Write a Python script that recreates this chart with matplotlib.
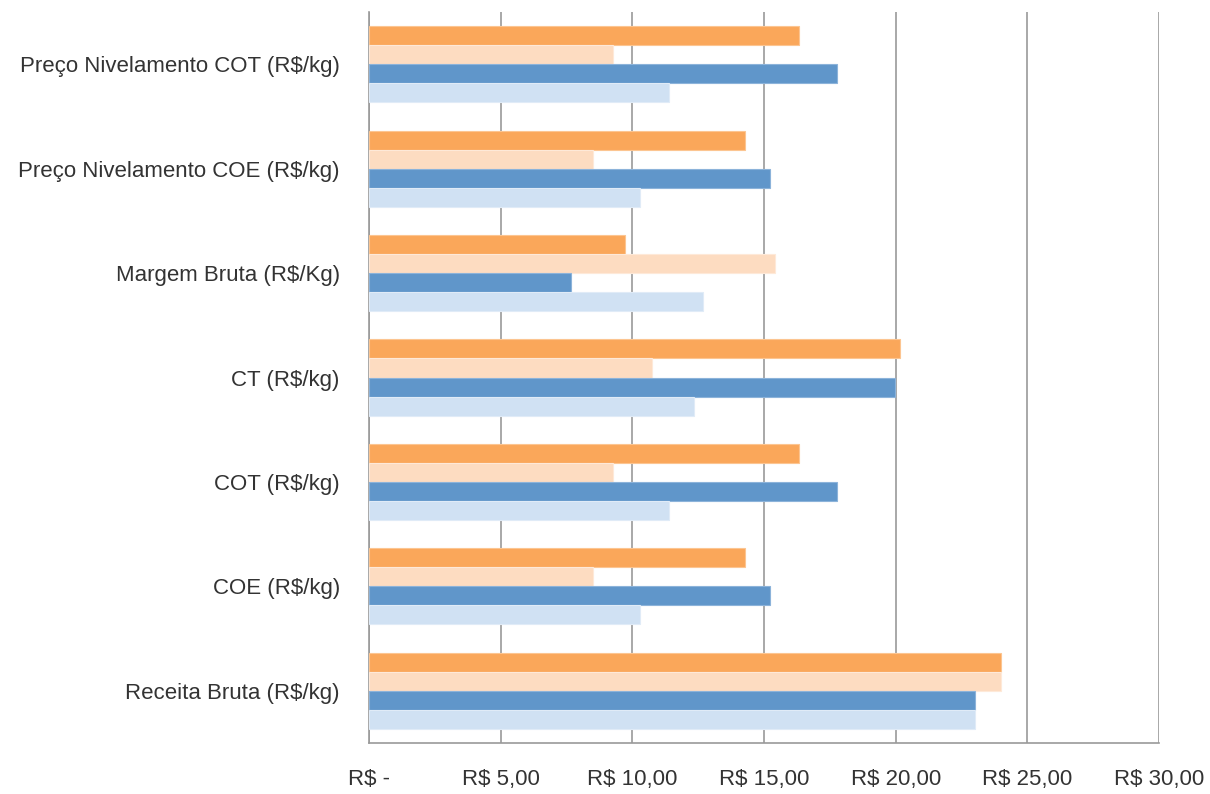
import matplotlib
matplotlib.use("Agg")
import matplotlib.pyplot as plt
from matplotlib import font_manager
import numpy as np

names = {f.name for f in font_manager.fontManager.ttflist}
fam = "Liberation Sans Narrow" if "Liberation Sans Narrow" in names else "Liberation Sans"
plt.rcParams['font.family'] = [fam, 'DejaVu Sans']

categories = ["Receita Bruta (R$/kg)", "COE (R$/kg)", "COT (R$/kg)", "CT (R$/kg)",
              "Margem Bruta (R$/Kg)", "Preço Nivelamento COE (R$/kg)",
              "Preço Nivelamento COT (R$/kg)"]
series_orange = [24.0, 14.27, 16.32, 20.17, 9.72, 14.28, 16.32]
series_light_orange = [24.0, 8.50, 9.28, 10.76, 15.42, 8.50, 9.28]
series_blue = [23.0, 15.23, 17.79, 19.99, 7.67, 15.23, 17.79]
series_light_blue = [23.0, 10.30, 11.39, 12.36, 12.68, 10.30, 11.39]
tick_values = [0, 5, 10, 15, 20, 25, 30]
tick_labels = ["R$ -", "R$ 5,00", "R$ 10,00", "R$ 15,00", "R$ 20,00", "R$ 25,00", "R$ 30,00"]

series = [series_orange, series_light_orange, series_blue, series_light_blue]
colors = ["#FAA75A", "#FDDCC1", "#6096CA", "#D0E1F3"]
edges = ["#FCC591", "#FEE9D8", "#8CB3DA", "#E0EBF7"]

fig = plt.figure(figsize=(12.1, 7.94), dpi=100)
ax = fig.add_axes([369/1210, 1-743/794, (1159-369)/1210, (743-12)/794])

y = np.arange(len(categories))
h = 0.182
offsets = [1.5*h, 0.5*h, -0.5*h, -1.5*h]
for s, c, e, o in zip(series, colors, edges, offsets):
    ax.barh(y + o, s, height=h, color=c, edgecolor=e, linewidth=0.8, zorder=3)

fs = 16 if fam == "Liberation Sans" else 17
ax.set_xlim(0, 30)
ax.set_ylim(-0.5, len(categories) - 0.5)
ax.set_xticks(tick_values)
ax.set_xticklabels(tick_labels, fontsize=fs)
ax.set_yticks(y)
ax.set_yticklabels(categories, fontsize=fs)
ax.tick_params(axis='x', length=0, pad=19, colors="#333333")
ax.tick_params(axis='y', length=0, pad=21, colors="#333333")
ax.grid(axis='x', color="#9A9A9A", linewidth=1.2, zorder=0)
for sp in ["top", "right"]:
    ax.spines[sp].set_visible(False)
ax.spines["left"].set_color("#9A9A9A")
ax.spines["left"].set_linewidth(1.2)
ax.spines["bottom"].set_color("#9A9A9A")
ax.spines["bottom"].set_linewidth(1.2)

fig.savefig("out.png", dpi=100)
